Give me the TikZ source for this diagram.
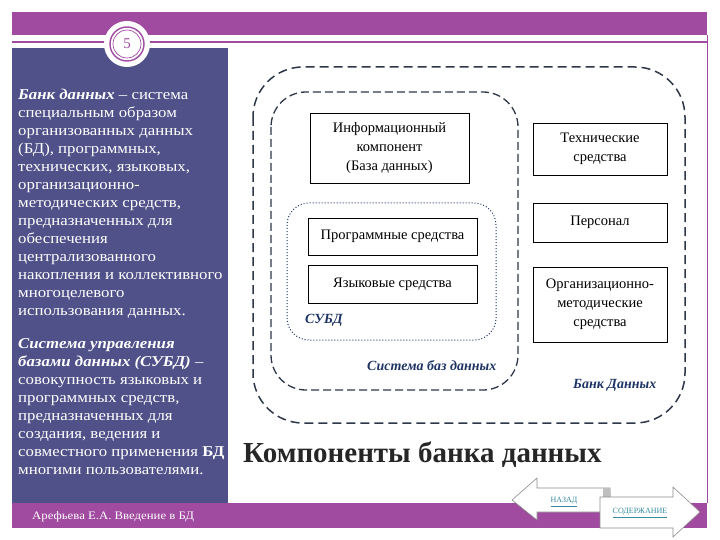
\documentclass[tikz,border=0pt]{standalone}
\usepackage{fontspec}
\setmainfont{Liberation Serif}
\newfontfamily\widefont[FakeStretch=1.12]{Liberation Serif}
\usetikzlibrary{positioning}
\definecolor{slidepurple}{RGB}{160,74,160}
\definecolor{panelblue}{RGB}{80,81,137}
\definecolor{labelblue}{RGB}{30,52,100}
\definecolor{dashgrey}{RGB}{45,55,72}
\definecolor{linkteal}{RGB}{55,140,160}
\newcommand{\panelfont}{\widefont\fontsize{15}{18}\selectfont}
\newcommand{\boxfont}{\fontsize{14.5}{19}\selectfont}
\newcommand{\lblfont}{\fontsize{14}{16}\selectfont\bfseries\itshape}

\begin{document}
\begin{tikzpicture}[x=1pt, y=-1pt,
  compbox/.style={draw=black, line width=0.8pt, fill=white, align=center, font=\boxfont, inner sep=2pt},
  grouplbl/.style={anchor=base west, inner sep=0pt, text=labelblue, font=\lblfont},
  paneltext/.style={anchor=north west, inner sep=0pt, align=left, text=white, font=\panelfont},
  navlink/.style={inner sep=0pt, text=linkteal, font=\fontsize{8}{9}\selectfont}]
\useasboundingbox (0,0) rectangle (720,540);
%frame
\fill[slidepurple] (12,12) rectangle (707,35);
\draw[slidepurple, line width=1.2pt] (12,42) -- (707,42);
\draw[slidepurple, line width=1pt] (707,35) -- (707,503);
\fill[panelblue] (12,48) rectangle (228,503);
\fill[slidepurple] (12,503) rectangle (707,528);
%badge
\fill[white] (127,44) circle (23);
\draw[slidepurple, line width=1.4pt] (127,44) circle (17);
\draw[slidepurple, line width=0.7pt] (127,44) circle (14);
\node[text=slidepurple, font=\fontsize{15}{15}\selectfont, inner sep=0pt] (num) at (127,44) {5};
%left panel
\node[paneltext] (bank) at (18,89) {\textbf{\textit{Банк данных}} – система\\
специальным образом\\
организованных данных\\
(БД), программных,\\
технических, языковых,\\
организационно-\\
методических средств,\\
предназначенных для\\
обеспечения\\
централизованного\\
накопления и коллективного\\
многоцелевого\\
использования данных.};
\node[paneltext] (subd) at (18,338) {\textbf{\textit{Система управления}}\\
\textbf{\textit{базами данных (СУБД)}} –\\
совокупность языковых и\\
программных средств,\\
предназначенных для\\
создания, ведения и\\
совместного применения \textbf{БД}\\
многими пользователями.};
\node[anchor=base west, inner sep=0pt, text=white, font=\widefont\fontsize{11.4}{12}\selectfont] (author) at (32,519) {Арефьева Е.А. Введение в БД};
%groups
\draw[dashgrey, line width=1.5pt, dash pattern=on 9pt off 5pt, rounded corners=50pt] (253,67) rectangle (685,423);
\draw[dashgrey, line width=1.3pt, dash pattern=on 8pt off 4pt, rounded corners=35pt] (271,92) rectangle (518,390);
\draw[labelblue, line width=1pt, dotted, rounded corners=22pt] (287,203) rectangle (496,340);
%components
\node[compbox, minimum width=159pt, minimum height=70pt] (info) at (389.5,148) {Информационный\\компонент\\(База данных)};
\node[compbox, minimum width=169pt, minimum height=37pt] (prog) at (392.5,236.5) {Программные средства};
\node[compbox, minimum width=169pt, minimum height=38pt] (lang) at (392.5,284) {Языковые средства};
\node[compbox, minimum width=134pt, minimum height=52pt] (tech) at (600,149) {Технические\\средства};
\node[compbox, minimum width=134pt, minimum height=39pt] (staff) at (600,222.5) {Персонал};
\node[compbox, minimum width=134pt, minimum height=75pt] (org) at (600,304.5) {Организационно-\\методические\\средства};
\node[grouplbl] (subdlbl) at (305,323) {СУБД};
\node[grouplbl] (sbdlbl) at (367,370) {Система баз данных};
\node[grouplbl] (banklbl) at (573,388) {Банк Данных};
%title
\node[anchor=base west, inner sep=0pt, text=black!85, font=\fontsize{29}{31}\selectfont\bfseries] (title) at (243,462) {Компоненты банка данных};
%navigation
\draw[black!45, fill=white, line width=0.6pt] (512,500) -- (537,478) -- (537,488) -- (610,488) -- (610,512) -- (537,512) -- (537,520) -- cycle;
\fill[black!25] (603,488) -- (610,488) -- (611,497) -- (603,500) -- cycle;
\draw[black!45, fill=white, line width=0.6pt] (600,497) -- (673,497) -- (673,487) -- (700,512) -- (673,537) -- (673,528) -- (600,528) -- cycle;
\node[navlink] (back) at (564,502) {\underline{НАЗАД}};
\node[navlink] (contents) at (640,513) {\underline{СОДЕРЖАНИЕ}};
\end{tikzpicture}
\end{document}
